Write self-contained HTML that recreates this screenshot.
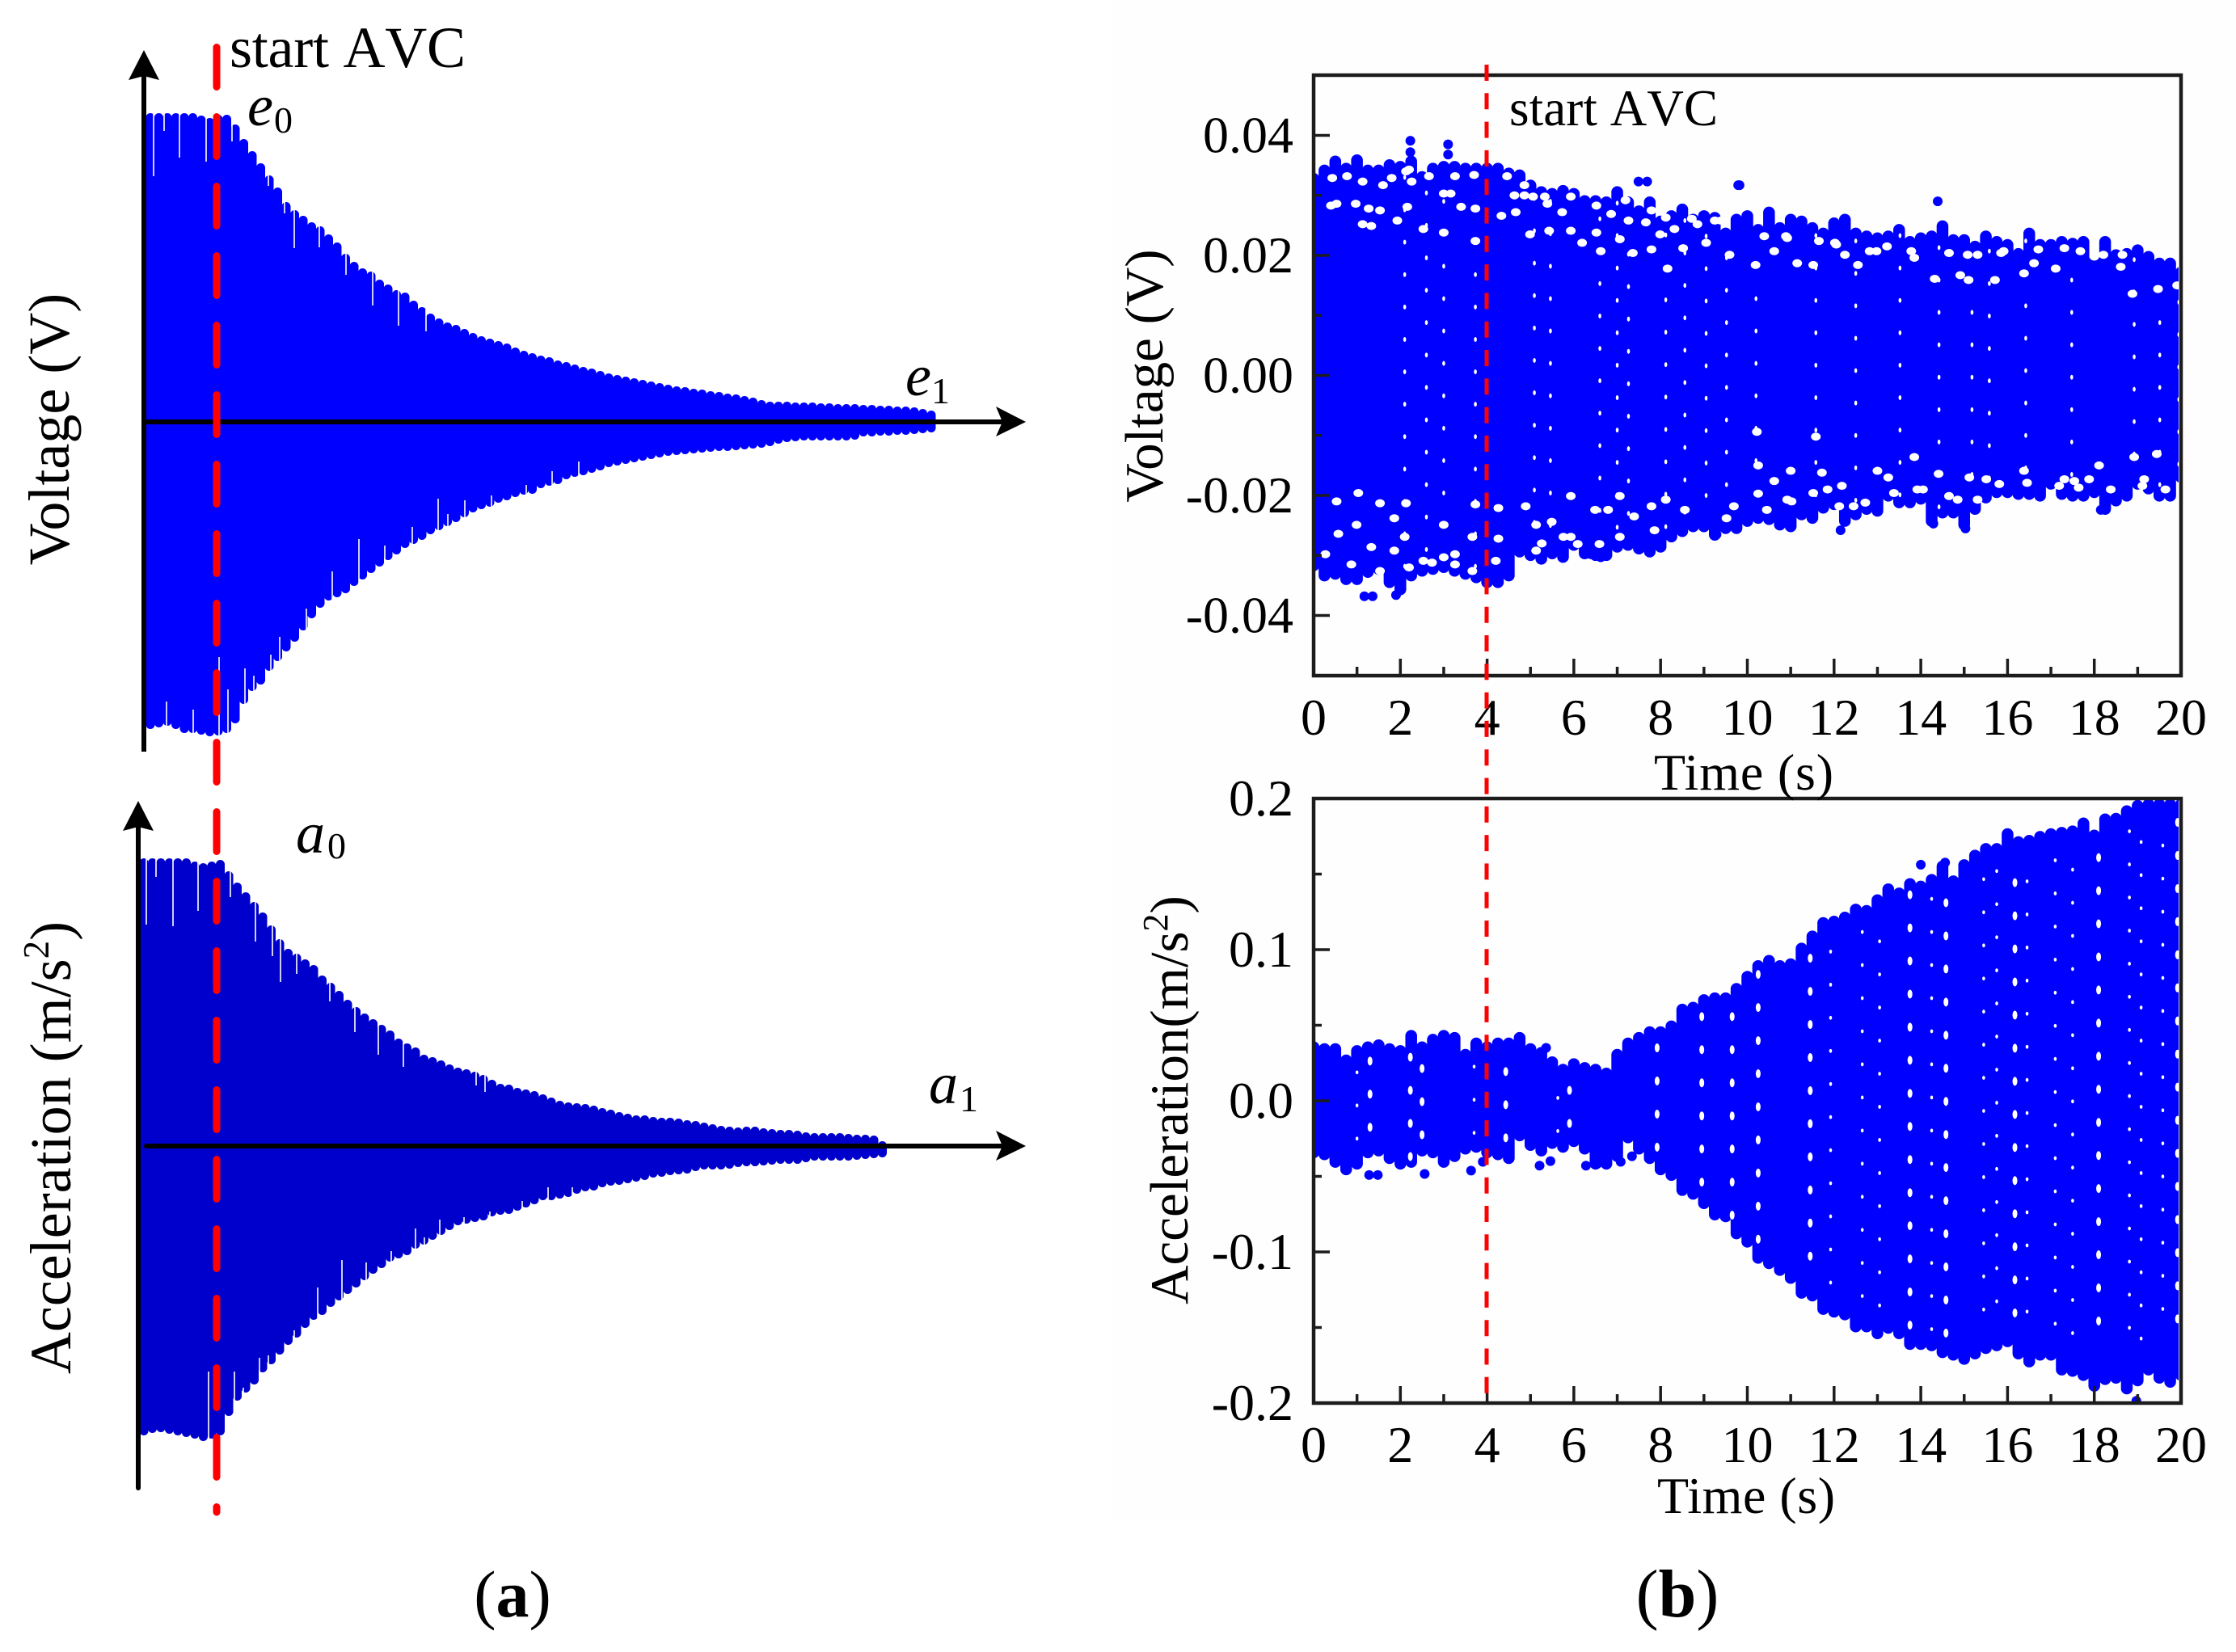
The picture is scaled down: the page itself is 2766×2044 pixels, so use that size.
<!DOCTYPE html>
<html lang="en">
<head>
<meta charset="utf-8">
<title>Voltage and acceleration response with AVC</title>
<style>
html,body{margin:0;padding:0;background:#fff;}
svg{display:block;}
text{font-family:"Liberation Serif",serif;fill:#000;}
.tick{font-size:64px;}
.nokern{font-kerning:none;}
</style>
</head>
<body>
<svg id="fig" xmlns="http://www.w3.org/2000/svg" width="2766" height="2044" viewBox="0 0 2766 2044">
  <rect x="0" y="0" width="2766" height="2044" fill="#fff"/>
  <rect x="1375" y="0" width="1391" height="1880" fill="#fefefe"/>
  <defs>
    <clipPath id="clipV"><rect x="1625" y="93" width="1070" height="743"/></clipPath>
    <clipPath id="clipA"><rect x="1625" y="988" width="1070" height="748"/></clipPath>
  </defs>
  <g id="a1"></g>
  <g id="a2"></g>
  <g id="b1" clip-path="url(#clipV)"></g>
  <g id="b2" clip-path="url(#clipA)"></g>
  <g id="axes"></g>

  <g>
    <rect x="175" y="90" width="6" height="840" fill="#000"/>
    <polygon points="178,62 197,99 178,94 159,99" fill="#000"/>
    <rect x="178" y="519" width="1064" height="6" fill="#000"/>
    <polygon points="1269,522 1232,503 1240,522 1232,540" fill="#000"/>
  </g>
  <g>
    <line x1="171" y1="1020" x2="171" y2="1841" stroke="#000" stroke-width="6" stroke-linecap="round"/>
    <polygon points="171,991 190,1028 171,1023 152,1028" fill="#000"/>
    <line x1="181" y1="1418" x2="1242" y2="1418" stroke="#000" stroke-width="6" stroke-linecap="round"/>
    <polygon points="1269,1418 1232,1399 1240,1418 1232,1436" fill="#000"/>
  </g>
  <line x1="268" y1="58.5" x2="268" y2="1871" stroke="#ff0000" stroke-width="9" stroke-linecap="round" stroke-dasharray="49 37"/>
  <line x1="1839" y1="80" x2="1839" y2="1738" stroke="#ff0000" stroke-width="5" stroke-dasharray="20 15.3"/>

  <text class="nokern" x="284" y="83" font-size="72" textLength="292" lengthAdjust="spacing">start AVC</text>
  <text x="306" y="155" font-size="72" font-style="italic">e</text>
  <text x="339" y="164" font-size="46">0</text>
  <text x="1120" y="489" font-size="72" font-style="italic">e</text>
  <text x="1152" y="499" font-size="46">1</text>
  <text x="366" y="1055" font-size="72" font-style="italic">a</text>
  <text x="405" y="1062" font-size="46">0</text>
  <text x="1149" y="1365" font-size="72" font-style="italic">a</text>
  <text x="1187" y="1375" font-size="46">1</text>
  <text transform="translate(85,531) rotate(-90)" text-anchor="middle" font-size="72">Voltage (V)</text>
  <text transform="translate(87,1420) rotate(-90)" text-anchor="middle" font-size="72">Acceleration (m/s<tspan font-size="45" dy="-27">2</tspan><tspan dy="27">)</tspan></text>

  <text class="nokern" x="1867" y="155" font-size="63" textLength="258" lengthAdjust="spacing">start AVC</text>
  <text transform="translate(1438,465) rotate(-90)" text-anchor="middle" font-size="67">Voltage (V)</text>
  <text transform="translate(1469,1361) rotate(-90)" text-anchor="middle" font-size="67">Acceleration(m/s<tspan font-size="44" dy="-25">2</tspan><tspan dy="25">)</tspan></text>
  <text x="2046" y="977" font-size="64" textLength="222" lengthAdjust="spacing">Time (s)</text>
  <text x="2050" y="1872" font-size="64" textLength="220" lengthAdjust="spacing">Time (s)</text>

  <text x="634" y="2000" text-anchor="middle" font-size="82">(<tspan font-weight="bold">a</tspan>)</text>
  <text x="2075" y="2000" text-anchor="middle" font-size="84">(<tspan font-weight="bold">b</tspan>)</text>
</svg>

<script>
/* ---------- panel (a): cycle peak amplitudes (arbitrary units, one value per cycle) ---------- */
const cycleStep = 10.5;
const voltageEnvelopeUp = [382,382,382,382,382,382,379,376,380,380,368,350,335,320,305,290,272,262,255,247,242,232,222,208,198,190,186,176,170,163,160,150,142,134,128,123,120,115,110,106,103,100,97,92,88,85,82,80,76,74,71,68,66,63,60,58,56,54,52,50,48,46,44,43,41,40,38,37,35,34,32,30,27,25,25,25,24,24,24,23,23,22,22,22,21,21,20,20,19,19,18,16,14];
const voltageEnvelopeDown = [380,378,376,380,385,385,387,389,388,385,373,349,333,325,308,296,284,272,258,243,230,221,217,212,203,195,187,179,171,164,156,151,146,139,134,129,124,118,112,108,105,100,97,93,90,89,82,79,77,71,68,66,63,60,56,54,52,50,48,46,44,42,41,40,39,38,37,36,36,35,34,33,32,30,27,25,24,23,23,23,23,23,23,22,18,18,17,17,16,16,15,14,13];
const voltageSlitUpTime = [4,17,36,69,101,146,166,178,209,242,275,307,341];
const voltageSlitUpReach = [304,360,327,322,347,292,258,215,216,182,144,119,112];
const voltageSlitDownTime = [20,53,85,96,117,128,149,160,193,225,258,290,324,356,368,389,422,465,497,530];
const voltageSlitDownReach = [346,356,291,331,305,314,288,266,231,185,145,153,130,95,114,97,91,78,61,49];

const accelEnvelopeUp = [356,356,356,356,356,356,352,350,352,354,340,326,314,302,289,273,256,244,238,231,224,211,202,192,181,172,164,157,150,143,133,127,122,113,110,106,101,97,95,92,88,82,77,76,72,70,68,64,60,56,54,53,52,50,47,45,42,40,38,38,36,35,35,34,32,31,29,27,25,24,23,24,24,22,21,20,20,19,17,16,16,16,16,15,14,14,13,6];
const accelEnvelopeDown = [358,355,354,356,358,360,362,365,362,358,334,315,305,295,280,270,258,246,237,225,215,209,199,191,183,175,166,158,151,143,139,135,127,122,116,110,104,98,96,94,92,87,85,84,80,76,72,67,67,65,63,59,56,55,51,49,48,46,44,42,39,38,36,35,34,31,29,29,29,28,26,25,25,24,23,22,22,22,20,18,18,18,18,18,17,16,15,14];
const accelSlitUpTime = [3,15,36,67,107,138,159,169,189,230,261,290,321,411,422];
const accelSlitUpReach = [274,333,272,291,308,253,235,203,213,179,141,113,98,75,67];
const accelSlitDownTime = [80,112,123,143,154,186,215,245,275,306,336,347,366,396,428,468,500,530];
const accelSlitDownReach = [279,279,299,262,259,228,175,141,144,130,102,113,91,88,81,68,51,51];

/* ---------- panel (b): time axis, tick labels ---------- */
const sampleStep = 0.25;
const xTickLabels = ["0","2","4","6","8","10","12","14","16","18","20"];
const xMajorTicks = [0,2,4,6,8,10,12,14,16,18];
const xMinorTicks = [1,3,5,7,9,11,13,15,17,19];
const voltageTicks = [0.04,0.02,0,-0.02,-0.04];
const voltageTickLabels = ["0.04","0.02","0.00","-0.02","-0.04"];
const voltageMinorTicks = [0.03,0.01,-0.01,-0.03];
const accelTicks = [0.2,0.1,0,-0.1,-0.2];
const accelTickLabels = ["0.2","0.1","0.0","-0.1","-0.2"];
const accelMinorTicks = [0.15,0.05,-0.05,-0.15];

/* ---------- panel (b) voltage: envelope every 0.25 s ---------- */
const voltageUpper = [.0337,.0351,.0366,.0354,.0368,.0351,.0351,.0360,.0357,.0366,.0340,.0354,.0357,.0357,.0354,.0354,.0354,.0354,.0346,.0343,.0326,.0315,.0312,.0317,.0312,.0300,.0300,.0298,.0315,.0298,.0283,.0298,.0266,.0275,.0286,.0269,.0275,.0272,.0246,.0269,.0275,.0252,.0281,.0255,.0269,.0266,.0255,.0246,.0263,.0269,.0246,.0241,.0238,.0241,.0252,.0232,.0238,.0241,.0258,.0235,.0235,.0224,.0241,.0232,.0227,.0212,.0246,.0227,.0227,.0232,.0229,.0232,.0201,.0232,.0210,.0212,.0218,.0207,.0196,.0196,.0181];
const voltageLower = [-.0326,-.0343,-.0340,-.0349,-.0349,-.0337,-.0332,-.0354,-.0366,-.0343,-.0335,-.0332,-.0329,-.0335,-.0340,-.0346,-.0354,-.0354,-.0343,-.0303,-.0309,-.0315,-.0306,-.0312,-.0292,-.0306,-.0309,-.0309,-.0295,-.0292,-.0298,-.0303,-.0295,-.0278,-.0269,-.0261,-.0261,-.0275,-.0264,-.0264,-.0252,-.0247,-.0249,-.0258,-.0261,-.0241,-.0247,-.0230,-.0224,-.0252,-.0241,-.0232,-.0235,-.0210,-.0221,-.0221,-.0215,-.0252,-.0238,-.0238,-.0258,-.0232,-.0213,-.0204,-.0204,-.0207,-.0207,-.0210,-.0190,-.0207,-.0210,-.0210,-.0204,-.0232,-.0218,-.0210,-.0190,-.0198,-.0210,-.0210,-.0179];
const voltageOutlierT = [2.23,2.23,3.1,3.1,7.49,7.69,9.79,9.82,14.39,1.17,1.36,1.9,6.39,6.62,9.29,12.15,14.29,15.03,18.15];
const voltageOutlierV = [.0391,.0372,.0385,.0368,.0323,.0323,.0317,.0317,.0290,-.0368,-.0368,-.0366,-.0298,-.0303,-.0265,-.0258,-.0247,-.0255,-.0224];
const voltageGapColT = [2.1,2.6,3.0,3.73,5.09,5.46,6.6,7.0,7.26,8.12,8.56,9.05,9.52,10.2,11.58,12.5,13.52,14.42,15.18,15.58,16.42,17.48,18.92,19.51,19.95];
const voltageGapColV = [.0006,.0034,.0020,.0006,.0025,-.0088,.0045,.0017,.0040,.0126,.0150,.0016,.0034,.0074,.0017,-.0046,.0017,-.0003,-.0003,-.0063,.0062,-.0003,-.0023,-.0020,.0014];
const voltageGapRowStep = 0.0054;
const voltageFringeT = [.40,.53,.97,1.27,1.53,1.13,1.33,1.93,2.16,2.13,2.26,2.53,3.0,3.16,3.0,3.4,3.73,3.73,4.33,4.63,4.66,4.86,5.06,4.99,5.43,5.39,5.73,5.93,6.19,6.52,6.62,6.86,7.06,7.36,7.26,7.66,7.99,8.32,7.79,8.16,8.52,9.05,9.59,8.85,9.39,
 .53,1.03,.99,.57,1.53,1.86,2.13,2.1,1.33,1.86,2.53,3.0,3.0,3.26,3.66,3.73,4.26,4.26,4.89,5.13,5.13,5.49,5.76,5.93,6.09,6.49,6.79,7.39,7.79,7.06,8.12,8.56,9.69,9.52,
 10.19,10.62,10.89,11.52,11.15,12.25,12.02,12.55,12.82,13.22,13.85,14.32,14.91,15.1,15.71,15.08,15.85,16.38,16.61,17.11,17.68,18.21,18.61,18.88,19.47,19.91,
 10.22,10.25,10.62,11.58,11.72,11.0,10.25,11.02,11.85,12.18,12.45,13.0,13.25,13.85,13.92,14.41,14.65,15.12,15.51,15.81,16.38,17.31,17.54,17.88,18.11,18.92,19.44,19.15,
 .43,.77,1.13,1.6,1.8,2.2,2.66,3.26,3.7,4.46,4.86,5.33,5.93,6.52,7.19,7.79,8.12,8.72,9.25,
 .27,.87,1.53,2.2,2.73,3.26,3.66,4.2,5.26,5.93,6.59,7.06,7.86,
 10.39,10.92,11.65,12.05,12.98,13.78,14.65,15.31,15.91,16.71,17.31,18.0,18.65,
 10.45,10.92,11.52,12.12,12.72,13.38,14.05,14.85,15.31,16.45,17.19,17.64,18.38,19.11,19.64];
const voltageFringeV = [.0283,.0286,.0286,.0278,.0275,.0252,.0249,.0258,.0281,.0340,.0323,.0244,.0303,.0303,.0238,.0281,.0278,.0224,.0266,.0300,.0272,.0300,.0298,.0235,.0241,.0286,.0272,.0241,.0221,.0238,.0207,.0269,.0227,.0204,.0258,.0255,.0235,.0244,.0210,.0178,.0212,.0221,.0201,.0252,.0258,
 -.0210,-.0196,-.0249,-.0264,-.0213,-.0238,-.0213,-.0269,-.0286,-.0292,-.0309,-.0249,-.0303,-.0298,-.0269,-.0215,-.0272,-.0221,-.0218,-.0249,-.0292,-.0244,-.0269,-.0201,-.0281,-.0224,-.0224,-.0235,-.0218,-.0201,-.0207,-.0224,-.0218,-.0238,
 .0184,.0207,.0232,.0184,.0187,.0201,.0221,.0184,.0207,.0215,.0196,.0161,.0167,.0159,.0159,.0201,.0204,.0170,.0187,.0178,.0207,.0201,.0181,.0136,.0144,.0150,
 -.0094,-.0150,-.0176,-.0102,-.0162,-.0159,-.0197,-.0210,-.0190,-.0184,-.0218,-.0159,-.0170,-.0136,-.0190,-.0164,-.0201,-.0170,-.0173,-.0181,-.0159,-.0173,-.0176,-.0173,-.0150,-.0136,-.0131,-.0173,
 .0329,.0332,.0323,.0317,.0329,.0343,.0332,.0332,.0334,.0332,.0317,.0298,.0298,.0283,.0292,.0275,.0263,.0261,.0258,
 -.0298,-.0315,-.0326,-.0320,-.0312,-.0315,-.0326,-.0309,-.0280,-.0269,-.0281,-.0269,-.0258,
 .0232,.0229,.0224,.0218,.0207,.0207,.0204,.0201,.0207,.0210,.0212,.0198,.0201,
 -.0224,-.0207,-.0196,-.0218,-.0212,-.0196,-.0190,-.0207,-.0207,-.0179,-.0184,-.0187,-.0190,-.0184,-.0190];

/* ---------- panel (b) acceleration: envelope every 0.25 s ---------- */
const accelUpper = [.0392,.0380,.0380,.0305,.0367,.0392,.0405,.0380,.0367,.0467,.0392,.0442,.0467,.0454,.0342,.0417,.0392,.0417,.0417,.0454,.0380,.0355,.0293,.0243,.0280,.0255,.0243,.0218,.0342,.0417,.0454,.0492,.0492,.0530,.0641,.0654,.0704,.0716,.0716,.0778,.0858,.0929,.0964,.0929,.0941,.1045,.1125,.1214,.1223,.1250,.1303,.1294,.1365,.1437,.1410,.1472,.1455,.1499,.1588,.1490,.1597,.1660,.1704,.1704,.1802,.1749,.1758,.1784,.1802,.1811,.1820,.1873,.1793,.1900,.1904,.1954,.1989,.1998,.1998,.1998,.1998];
const accelLower = [-.0379,-.0392,-.0442,-.0491,-.0454,-.0379,-.0367,-.0417,-.0454,-.0442,-.0367,-.0379,-.0442,-.0404,-.0354,-.0342,-.0379,-.0392,-.0417,-.0267,-.0330,-.0367,-.0317,-.0342,-.0305,-.0354,-.0454,-.0454,-.0404,-.0280,-.0354,-.0417,-.0491,-.0529,-.0628,-.0653,-.0715,-.0790,-.0802,-.0915,-.097,-.1077,-.1112,-.1157,-.1210,-.1308,-.1326,-.1415,-.1433,-.1451,-.1531,-.1531,-.1576,-.1540,-.1576,-.1647,-.1647,-.1656,-.1701,-.1718,-.1745,-.1710,-.1674,-.1656,-.1629,-.1710,-.1763,-.1718,-.1718,-.1816,-.1825,-.1852,-.1923,-.1879,-.1870,-.1941,-.1888,-.1816,-.1870,-.1897,-.1852];
const accelOutlierT = [1.28,1.48,2.56,3.63,3.9,5.21,5.46,6.28,6.54,7.08,7.34,5.36,14.0,14.56,18.97];
const accelOutlierV = [-.0491,-.0491,-.0484,-.0462,-.0404,-.0429,-.0399,-.0429,-.0417,-.0404,-.0367,.0350,.1562,.1576,-.1985];
const accelGapStrongT = [1.3,2.23,2.5,4.43,5.9,7.92,8.95,9.65,10.25,11.45,13.75,14.58,16.17,18.1,19.92];
const accelGapStrongV = [.0044,.0069,-.0006,-.0026,.0069,.0131,.0119,.0119,.0617,.0724,.0706,.0653,.0786,.0733,.0747];
const accelGapFaintT = [1.0,3.7,5.63,11.92,12.65,13.05,14.25,15.45,15.75,16.45,17.1,17.5,18.81,19.08,19.58];
const accelGapFaintV = [-.0031,.0007,.0019,.0768,.0679,.0617,.0679,.0590,.0644,.0795,.0715,.0653,.0688,.0617,.0813];
const accelGapRowStep = 0.0219;

/* ---------- helpers ---------- */
const NS = "http://www.w3.org/2000/svg";
function svgEl(tag, attrs, parent){
  const el = document.createElementNS(NS, tag);
  for (const k in attrs) el.setAttribute(k, attrs[k]);
  parent.appendChild(el);
  return el;
}

/* panel (a) comb traces */
function drawComb(parent, x0, cy, ups, downs, upT, upR, downT, downR, color){
  const xOf = t => x0 + t;
  const yUp = v => cy - v;
  const yDown = v => cy + v;
  const cap = 5.5;
  ups.forEach((u, k) => {
    const t = k * cycleStep;
    const c = svgEl('line', {x1:xOf(t), x2:xOf(t), y1:yUp(u) + cap, y2:yDown(downs[k]) - cap, stroke:color, 'stroke-width':11, 'stroke-linecap':'round'}, parent);
    
    
  });
  upT.forEach((t, i) => {
    const s = svgEl('line', {x1:xOf(t), x2:xOf(t), y1:yUp(upR[i]), y2:yUp(395), stroke:'#fff', 'stroke-width':1.6}, parent);
    
    
  });
  downT.forEach((t, i) => {
    const s = svgEl('line', {x1:xOf(t), x2:xOf(t), y1:yDown(downR[i]), y2:yDown(395), stroke:'#fff', 'stroke-width':1.6}, parent);
    
    
  });
}
drawComb(document.getElementById('a1'), 186, 522, voltageEnvelopeUp, voltageEnvelopeDown, voltageSlitUpTime, voltageSlitUpReach, voltageSlitDownTime, voltageSlitDownReach, '#0000ff');
drawComb(document.getElementById('a2'), 178, 1418, accelEnvelopeUp, accelEnvelopeDown, accelSlitUpTime, accelSlitUpReach, accelSlitDownTime, accelSlitDownReach, '#0000cc');

/* panel (b) scales */
const xT = t => 1625 + t * 53.65;
const yV = v => 464.5 - v * 7425;
const yA = v => 1362 - v * 1870;

function drawBand(parent, ys, upper, lower){
  upper.forEach((u, i) => {
    const t = i * sampleStep;
    const c = svgEl('line', {x1:xT(t), x2:xT(t), y1:ys(u) + 7, y2:ys(lower[i]) - 7, stroke:'#0000ff', 'stroke-width':14.5, 'stroke-linecap':'round'}, parent);
    
    
  });
}
function drawOutliers(parent, ys, ts, vs){
  ts.forEach((t, i) => {
    const d = svgEl('circle', {cx:xT(t), cy:ys(vs[i]), r:6, fill:'#0000ff'}, parent);
    
    
  });
}
function inEnvelope(t, v, upper, lower, margin){
  const i = Math.max(0, Math.min(upper.length - 1, Math.round(t / sampleStep)));
  return v < upper[i] * margin && v > lower[i] * margin;
}
function drawGapColumns(parent, ys, ts, vs, step, upper, lower, rx, ry){
  ts.forEach((t, i) => {
    const n = Math.ceil(0.21 / step);
    for (let k = -n; k <= n; k++) {
      const v = vs[i] + k * step;
      if (!inEnvelope(t, v, upper, lower, 0.93)) continue;
      const g = svgEl('ellipse', {cx:xT(t), cy:ys(v), rx:rx, ry:ry, fill:'#fff'}, parent);
      
      
    }
  });
}
function drawFringe(parent, ys, ts, vs){
  ts.forEach((t, i) => {
    const g = svgEl('ellipse', {cx:xT(t), cy:ys(vs[i]), rx:6, ry:5, fill:'#fff'}, parent);
    
    
  });
}

const b1 = document.getElementById('b1');
drawBand(b1, yV, voltageUpper, voltageLower);
drawOutliers(b1, yV, voltageOutlierT, voltageOutlierV);
drawGapColumns(b1, yV, voltageGapColT, voltageGapColV, voltageGapRowStep, voltageUpper, voltageLower, 1.8, 3);
drawFringe(b1, yV, voltageFringeT, voltageFringeV);

const b2 = document.getElementById('b2');
drawBand(b2, yA, accelUpper, accelLower);
drawOutliers(b2, yA, accelOutlierT, accelOutlierV);
drawGapColumns(b2, yA, accelGapStrongT, accelGapStrongV, accelGapRowStep, accelUpper, accelLower, 3, 5.5);
drawGapColumns(b2, yA, accelGapFaintT, accelGapFaintV, accelGapRowStep, accelUpper, accelLower, 1.8, 2.4);

/* panel (b) axes */
const axes = document.getElementById('axes');
function drawAxes(top, bottom, ys, yTicks, yLabels, yMinor){
  const frame = svgEl('rect', {x:1625, y:top, width:1073, height:bottom - top, fill:'none', stroke:'#1c1c1c', 'stroke-width':4.5}, axes);
  
  
  xMajorTicks.forEach(t => {
    const m = svgEl('line', {x1:xT(t), x2:xT(t), y1:bottom, y2:bottom - 21, stroke:'#1c1c1c', 'stroke-width':3.5}, axes);
    
    
  });
  xMinorTicks.forEach(t => {
    const m = svgEl('line', {x1:xT(t), x2:xT(t), y1:bottom, y2:bottom - 11, stroke:'#1c1c1c', 'stroke-width':3.5}, axes);
    
    
  });
  xTickLabels.forEach((label, i) => {
    const l = svgEl('text', {x:xT(Number(label)), y:bottom + 73, 'text-anchor':'middle', class:'tick'}, axes);
    l.textContent = label;
    
    
  });
  yTicks.forEach((v, i) => {
    const m = svgEl('line', {x1:1625, x2:1645, y1:ys(v), y2:ys(v), stroke:'#1c1c1c', 'stroke-width':3.5}, axes);
    
    
    const l = svgEl('text', {x:1600, y:ys(v) + 21, 'text-anchor':'end', class:'tick'}, axes);
    l.textContent = yLabels[i];
    
    
  });
  yMinor.forEach(v => {
    const m = svgEl('line', {x1:1625, x2:1635, y1:ys(v), y2:ys(v), stroke:'#1c1c1c', 'stroke-width':3.5}, axes);
    
    
  });
}
drawAxes(93, 836, yV, voltageTicks, voltageTickLabels, voltageMinorTicks);
drawAxes(988, 1736, yA, accelTicks, accelTickLabels, accelMinorTicks);
</script>
</body>
</html>
